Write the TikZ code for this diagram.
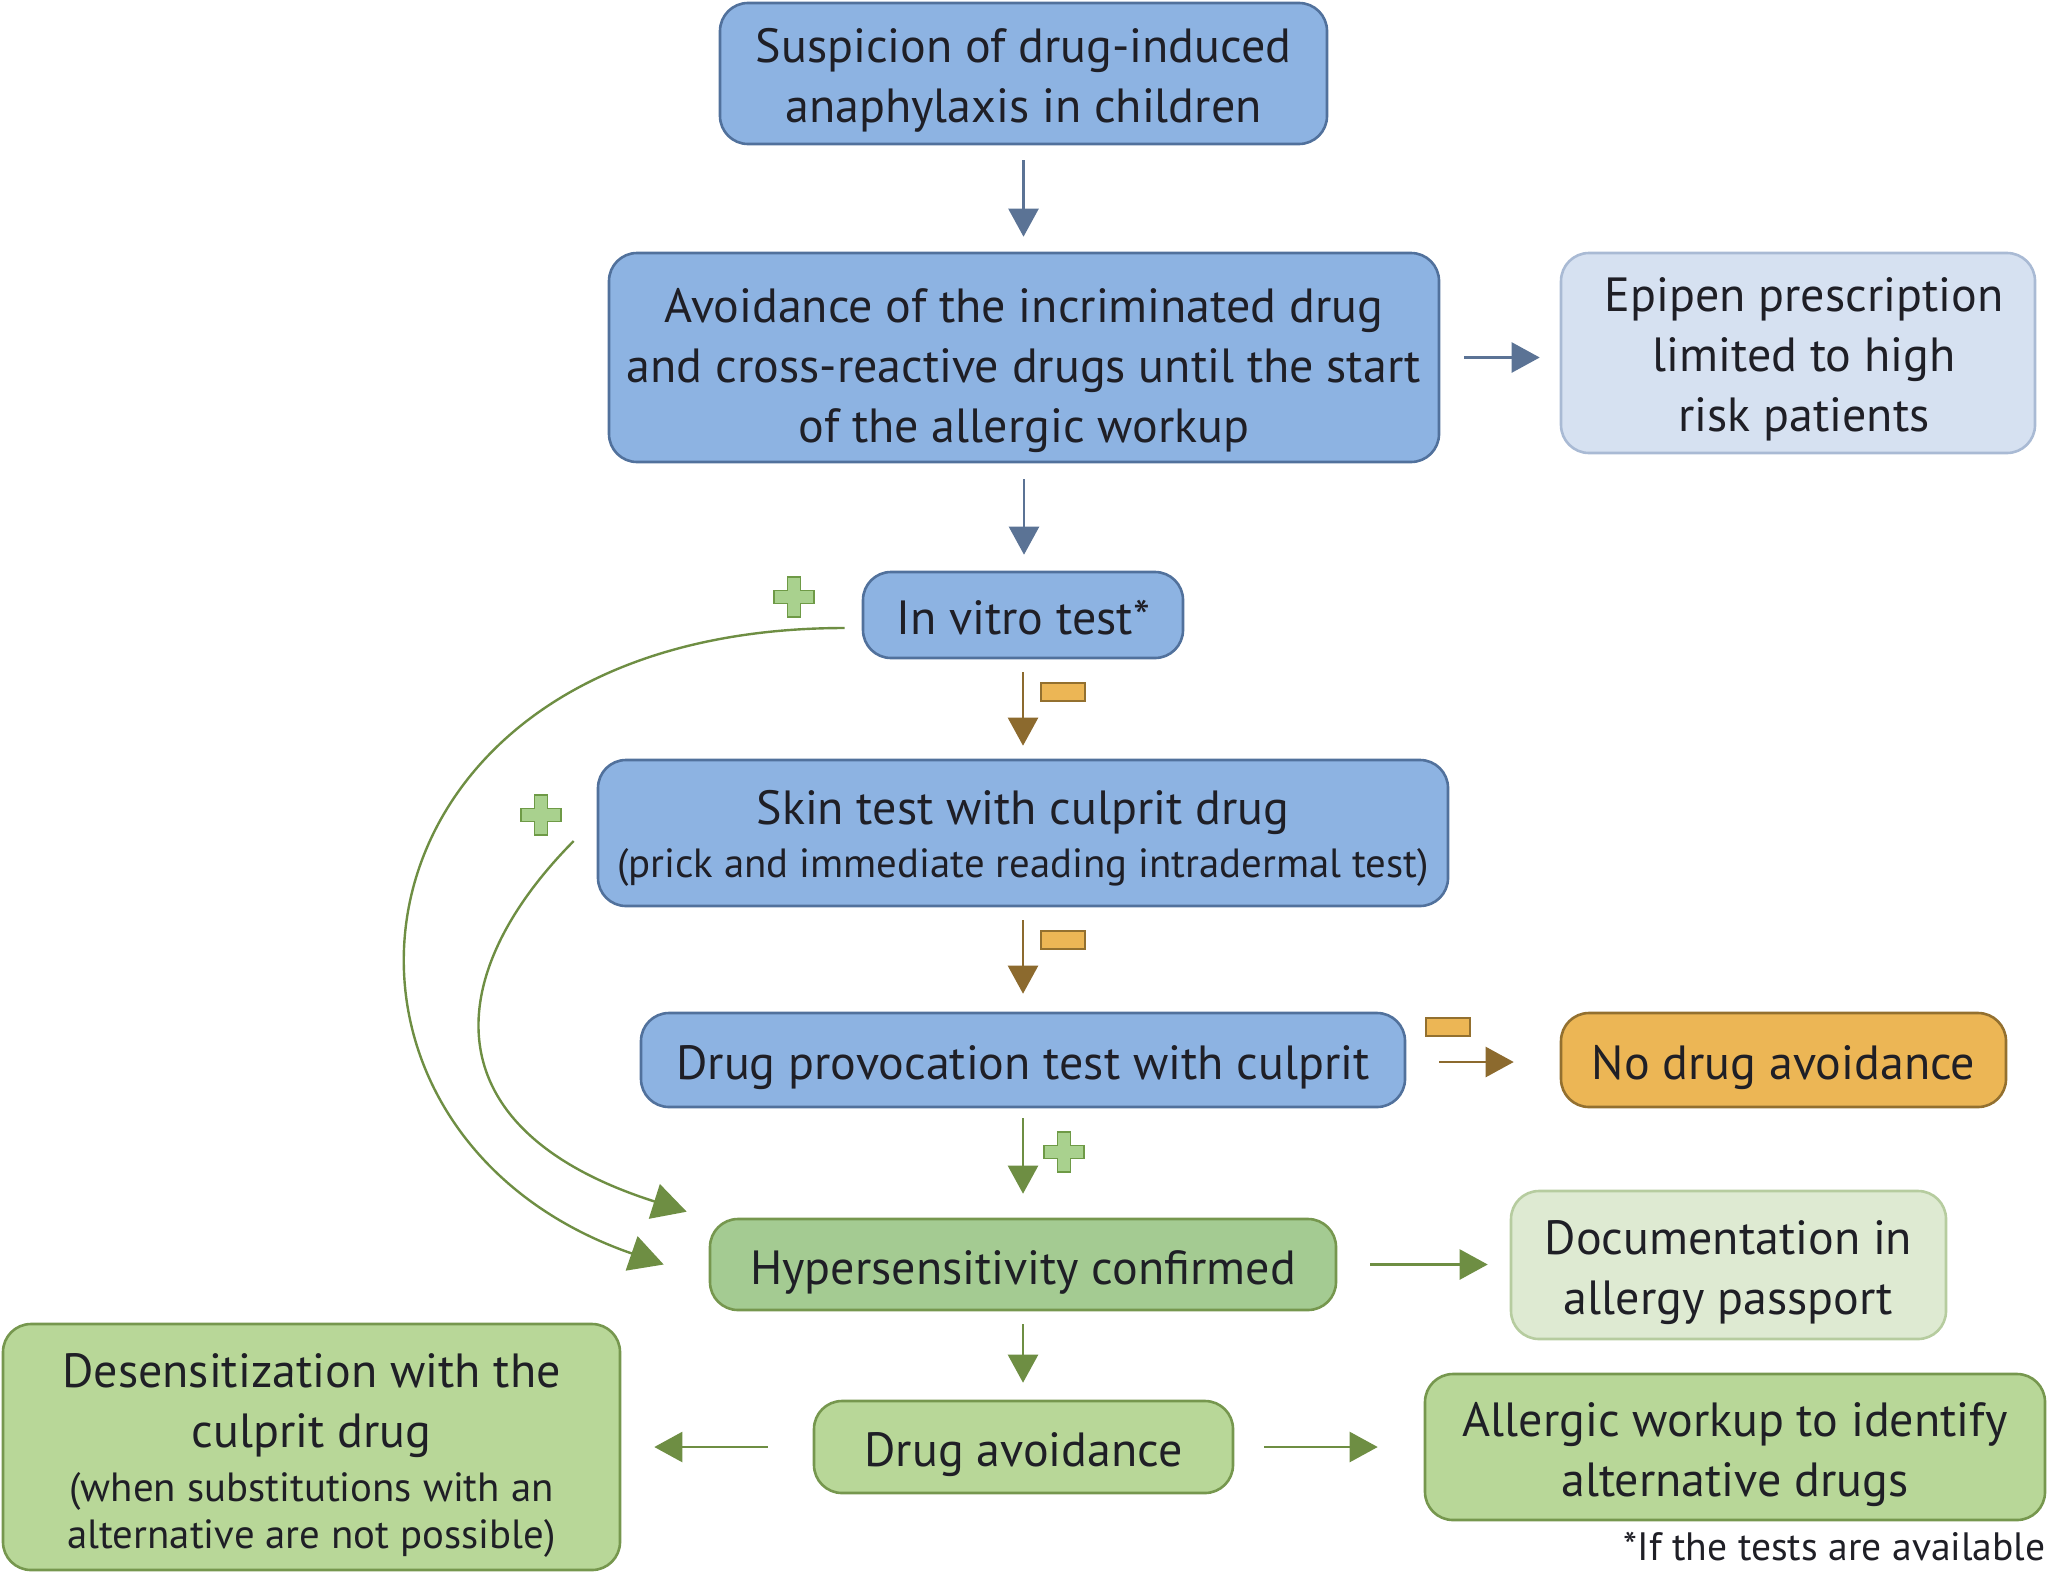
\documentclass[tikz,border=0pt]{standalone}
\usepackage{fontspec}
\setmainfont{PT Sans}
\usetikzlibrary{arrows.meta}
\definecolor{txt}{HTML}{1F1F26}
\definecolor{bluefill}{HTML}{8DB3E2}
\definecolor{blueline}{HTML}{51719C}
\definecolor{bluearrow}{HTML}{5B7395}
\definecolor{palefill}{HTML}{D6E1F1}
\definecolor{paleline}{HTML}{A9BAD4}
\definecolor{brownarrow}{HTML}{8C6A2E}
\definecolor{orangefill}{HTML}{ECB655}
\definecolor{orangeline}{HTML}{93702F}
\definecolor{greenarrow}{HTML}{6E8E43}
\definecolor{plusfill}{HTML}{A9D18E}
\definecolor{plusline}{HTML}{6E9A46}
\definecolor{hyperfill}{HTML}{A4CB92}
\definecolor{greenfill}{HTML}{B8D798}
\definecolor{greenline}{HTML}{76974E}
\definecolor{docfill}{HTML}{DEEAD2}
\definecolor{docline}{HTML}{B6CC9F}
\newcommand\boxtext[2][3.8pt]{\raisebox{-#1}[\height][\depth]{\begin{tabular}{@{}c@{}}#2\end{tabular}}}
\newcommand\smallfnt{\fontsize{20.4}{23.5}\selectfont}
\begin{document}
\begin{tikzpicture}[x=0.5pt,y=-0.5pt,
  box/.style={rounded corners=14pt, line width=1.3pt, inner sep=0pt, text=txt, font=\fontsize{24}{30}\selectfont},
  bluebox/.style={box, fill=bluefill, draw=blueline},
  palebox/.style={box, fill=palefill, draw=paleline},
  orangebox/.style={box, fill=orangefill, draw=orangeline},
  hyperbox/.style={box, fill=hyperfill, draw=greenline},
  greenbox/.style={box, fill=greenfill, draw=greenline},
  docbox/.style={box, fill=docfill, draw=docline},
  barrow/.style={draw=bluearrow, line width=1.2pt, -{Triangle[length=14pt,width=15pt]}},
  brarrow/.style={draw=brownarrow, line width=1.2pt, -{Triangle[length=14pt,width=15pt]}},
  garrow/.style={draw=greenarrow, line width=1.2pt, -{Triangle[length=14pt,width=15pt]}},
  gcurve/.style={draw=greenarrow, line width=1.2pt, -{Triangle[length=17pt,width=18pt]}},
  plussign/.pic={\filldraw[fill=plusfill, draw=plusline, line width=0.8pt]
    (-6.5,-20)--(6.5,-20)--(6.5,-6.5)--(20,-6.5)--(20,6.5)--(6.5,6.5)--(6.5,20)--(-6.5,20)--(-6.5,6.5)--(-20,6.5)--(-20,-6.5)--(-6.5,-6.5)--cycle;},
  minussign/.pic={\filldraw[fill=orangefill, draw=orangeline, line width=0.8pt] (-22,-9) rectangle (22,9);}
]
\useasboundingbox (0,0) rectangle (2048,1574);

\node[bluebox, minimum width=303.5pt, minimum height=70.5pt] (susp) at (1023.5,73.5) {\boxtext[3.5pt]{Suspicion of drug-induced\\anaphylaxis in children}};
\node[bluebox, minimum width=415pt, minimum height=104.5pt] (avoid) at (1024,357.5) {\boxtext[6.3pt]{Avoidance of the incriminated drug\\and cross-reactive drugs until the start\\of the allergic workup}};
\node[palebox, minimum width=237pt, minimum height=100pt] (epi) at (1798,353) {\boxtext[3.4pt]{\hspace{6pt}Epipen prescription\\\hspace{6pt}limited to high\\\hspace{6pt}risk patients}};
\node[bluebox, minimum width=160pt, minimum height=43pt] (vitro) at (1023,615) {\boxtext{In vitro test*}};
\node[bluebox, minimum width=425pt, minimum height=73pt] (skin) at (1023,833) {\boxtext[3pt]{Skin test with culprit drug\\[-3.2pt]{\smallfnt (prick and immediate reading intradermal test)}}};
\node[bluebox, minimum width=382pt, minimum height=47pt] (dpt) at (1023,1060) {\boxtext{Drug provocation test with culprit}};
\node[orangebox, minimum width=222.5pt, minimum height=47pt] (nodrug) at (1783.5,1060) {\boxtext{No drug avoidance}};
\node[hyperbox, minimum width=313pt, minimum height=45.5pt] (hyper) at (1023,1264.5) {\boxtext{Hypersensitivity confirmed}};
\node[docbox, minimum width=217.5pt, minimum height=74pt] (doc) at (1728.5,1265) {\boxtext{Documentation in\\allergy passport}};
\node[greenbox, minimum width=209.5pt, minimum height=46pt] (drugav) at (1023.5,1447) {\boxtext{Drug avoidance}};
\node[greenbox, minimum width=308.5pt, minimum height=123pt] (desens) at (311.5,1447) {\boxtext[4.6pt]{Desensitization with the\\culprit drug\\[-3.2pt]{\smallfnt (when substitutions with an}\\[-6.5pt]{\smallfnt alternative are not possible)}}};
\node[greenbox, minimum width=310pt, minimum height=73pt] (allerg) at (1735,1447) {\boxtext{Allergic workup to identify\\alternative drugs}};
\node[anchor=east, inner sep=0pt, text=txt, font=\fontsize{19.8}{22}\selectfont] (foot) at (2046,1547) {*If the tests are available};

% straight connectors
\draw[barrow, shorten <=7.5pt, shorten >=7.5pt] (susp.south) -- (susp.south |- avoid.north);
\draw[barrow, shorten <=12pt, shorten >=10pt] (avoid.east) -- (avoid.east -| epi.west);
\draw[barrow, shorten <=8pt, shorten >=8pt] (avoid.south) -- (avoid.south |- vitro.north);
\draw[brarrow, shorten <=6.5pt, shorten >=6.5pt] (vitro.south) -- (vitro.south |- skin.north);
\draw[brarrow, shorten <=6.5pt, shorten >=9pt] (skin.south) -- (skin.south |- dpt.north);
\draw[brarrow, shorten <=16.5pt, shorten >=23pt] ([yshift=-1pt]dpt.east) -- ([yshift=-1pt]dpt.east -| nodrug.west);
\draw[garrow, shorten <=5pt, shorten >=12pt] (dpt.south) -- (dpt.south |- hyper.north);
\draw[garrow, shorten <=16.5pt, shorten >=11pt] (hyper.east) -- (hyper.east -| doc.west);
\draw[garrow, shorten <=6.5pt, shorten >=8.5pt] (hyper.south) -- (hyper.south |- drugav.north);
\draw[garrow, shorten <=22.5pt, shorten >=16.5pt] (drugav.west) -- (drugav.west -| desens.east);
\draw[garrow, shorten <=15pt, shorten >=23pt] (drugav.east) -- (drugav.east -| allerg.west);

% curved connectors
\draw[gcurve] ([xshift=-8.5pt,yshift=-6.5pt]vitro.west) .. controls (330,628) and (275,1130) .. ([xshift=-22.5pt]hyper.west);
\draw[gcurve] ([xshift=-11.5pt,yshift=-4pt]skin.west) .. controls (440,976) and (430,1130) .. ([xshift=-11pt,yshift=3pt]hyper.north west);

% signs
\pic at (794,597) {plussign};
\pic at (541,815) {plussign};
\pic at (1064,1152) {plussign};
\pic at (1063,692) {minussign};
\pic at (1063,940) {minussign};
\pic at (1448,1027) {minussign};
\end{tikzpicture}
\end{document}
